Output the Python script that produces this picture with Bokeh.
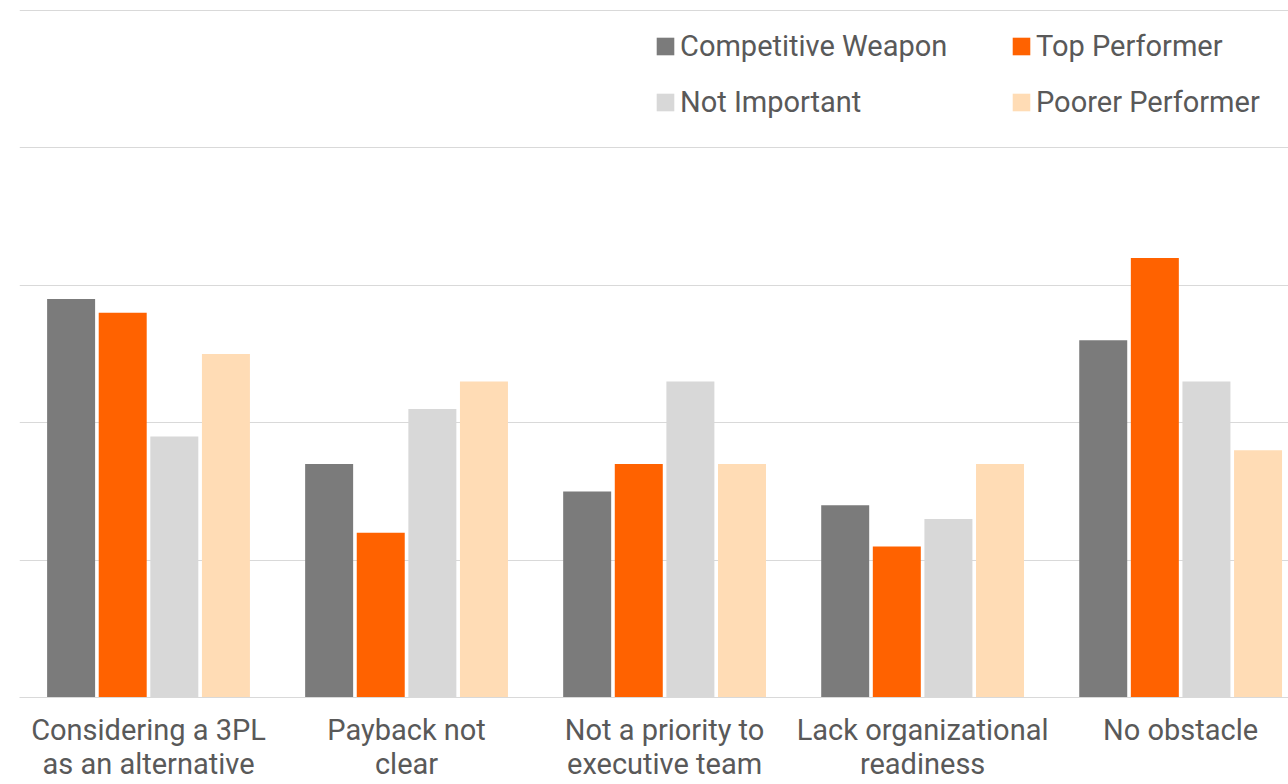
from bokeh.plotting import figure
from bokeh.models import (ColumnDataSource, Legend, LegendItem, FixedTicker,
                          Range1d)
from bokeh.transform import dodge
from bokeh.embed import file_html
from bokeh.resources import INLINE

# Obstacles to adopting the practice, share of respondents (%) per segment
categories = [
    "Considering a 3PL\nas an alternative",
    "Payback not\nclear",
    "Not a priority to\nexecutive team",
    "Lack organizational\nreadiness",
    "No obstacle",
]
competitive_weapon = [29, 17, 15, 14, 26]
top_performer = [28, 12, 17, 11, 32]
not_important = [19, 21, 23, 13, 23]
poorer_performer = [25, 23, 17, 17, 18]
y_ticks = [0, 10, 20, 30, 40, 50]

series = [
    ("Competitive Weapon", "cw", competitive_weapon, "#7b7b7b", -0.3),
    ("Top Performer", "tp", top_performer, "#ff6200", -0.1),
    ("Not Important", "ni", not_important, "#d8d8d8", 0.1),
    ("Poorer Performer", "pp", poorer_performer, "#ffdcb5", 0.3),
]

idx = list(range(len(categories)))
source = ColumnDataSource(dict(
    x=idx,
    cw=competitive_weapon,
    tp=top_performer,
    ni=not_important,
    pp=poorer_performer,
))

FONT = "Roboto"
TEXT = "#595959"
GRID = "#d9d9d9"

p = figure(
    width=1288, height=784,
    x_range=Range1d(-0.5, 4.418),
    y_range=Range1d(0, 50.08),
    output_backend="svg", toolbar_location=None,
    min_border_left=19, min_border_right=0,
    min_border_top=9, min_border_bottom=87,
)
p.outline_line_color = None
p.background_fill_color = "white"
p.border_fill_color = "white"

renderers = {}
for name, col, vals, color, off in series:
    r = p.vbar(x=dodge("x", off), top=col, width=0.186, bottom=0,
               source=source, fill_color=color, line_color=None)
    renderers[name] = r

# axes
p.yaxis.visible = False
p.yaxis.ticker = FixedTicker(ticks=y_ticks)
p.ygrid.ticker = FixedTicker(ticks=y_ticks)
p.ygrid.grid_line_color = GRID
p.ygrid.grid_line_width = 1
p.xgrid.grid_line_color = None

xa = p.xaxis[0]
xa.ticker = FixedTicker(ticks=idx)
xa.major_label_overrides = {i: lab for i, lab in enumerate(categories)}
xa.major_label_text_font = FONT
xa.major_label_text_font_size = "29px"
xa.major_label_text_line_height = 1.0
xa.major_label_text_color = TEXT
xa.major_label_standoff = 15
xa.major_tick_out = 0
xa.major_tick_in = 0
xa.major_tick_line_color = None
xa.minor_tick_line_color = None
xa.axis_line_color = GRID
xa.axis_line_width = 1


def make_legend(names, x, y):
    leg = Legend(
        items=[LegendItem(label=n, renderers=[renderers[n]]) for n in names],
        location=(x, y),
        orientation="vertical",
        label_text_font=FONT,
        label_text_font_size="29px",
        label_text_color=TEXT,
        glyph_width=22, glyph_height=22,
        label_standoff=4,
        spacing=22,
        padding=0, margin=0,
        border_line_color=None,
        background_fill_alpha=0,
    )
    return leg


p.add_layout(make_legend(["Competitive Weapon", "Not Important"], 635, 578))
p.add_layout(make_legend(["Top Performer", "Poorer Performer"], 991, 578))

open("out.html", "w").write(file_html(p, INLINE))
